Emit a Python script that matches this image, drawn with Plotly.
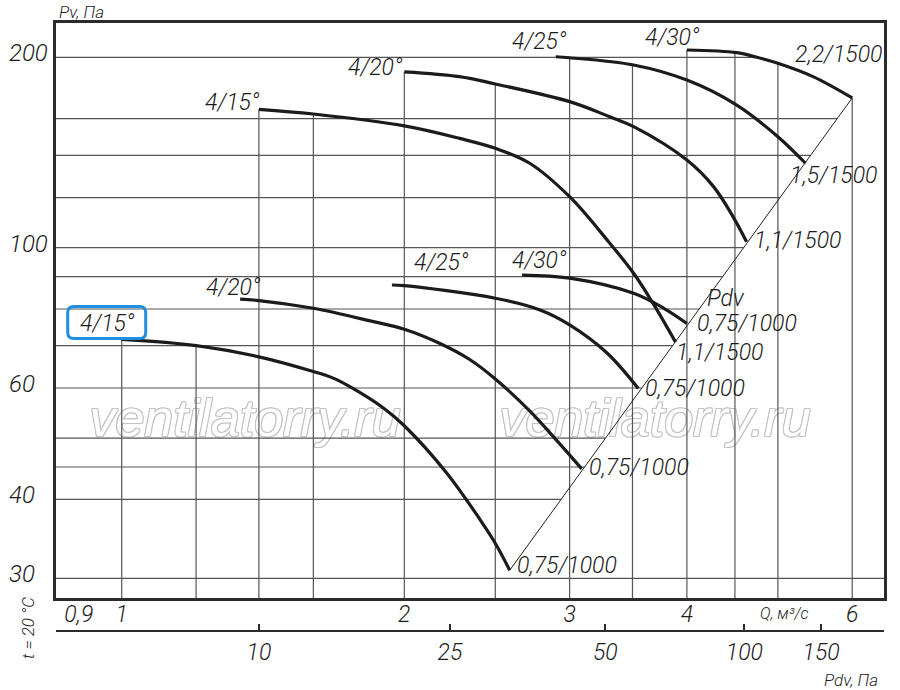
import numpy as np
import plotly.graph_objects as go

# ---------------- data ----------------
# 1000 rpm curves (motor 0,75 kW / 1000 rpm)
l15_q = [1.00, 1.20, 1.40, 1.60, 1.68, 1.75, 1.90, 2.00, 2.22, 2.41, 2.50, 2.59]
l15_p = [71.6, 70.0, 67.2, 63.7, 62.2, 60.3, 55.8, 52.3, 44.0, 37.1, 34.1, 30.9]
l20_q = [1.337, 1.40, 1.60, 1.84, 2.00, 2.18, 2.35, 2.50, 2.72, 2.93, 3.09]
l20_p = [82.9, 82.5, 80.2, 76.6, 74.3, 70.6, 66.5, 62.0, 55.2, 48.9, 44.7]
l25_q = [1.94, 2.00, 2.50, 2.79, 3.00, 3.29, 3.55]
l25_p = [87.3, 87.1, 83.2, 79.7, 75.5, 68.1, 59.9]
l30_q = [2.67, 3.00, 3.51, 3.78, 4.00]
l30_p = [90.5, 89.5, 84.7, 80.2, 75.9]
# 1500 rpm curves
u15_q = [1.40, 1.60, 2.00, 2.29, 2.50, 2.72, 3.00, 3.29, 3.51, 3.68, 3.89]
u15_p = [165.5, 162.7, 155.8, 148.9, 143.6, 136.0, 120.4, 102.8, 91.1, 81.7, 70.9]
u20_q = [2.00, 2.29, 2.50, 3.00, 3.31, 3.51, 4.00, 4.27, 4.48, 4.63]
u20_p = [189.7, 186.4, 181.5, 170.2, 161.1, 155.4, 137.6, 124.9, 111.9, 102.2]
u25_q = [2.90, 3.00, 3.51, 4.00, 4.52, 5.00, 5.35]
u25_p = [200.4, 199.7, 194.5, 184.1, 168.1, 149.8, 136.0]
u30_q = [4.00, 4.52, 4.75, 5.00, 5.45, 6.00]
u30_p = [205.4, 203.4, 200.0, 195.7, 186.4, 172.5]

angle_labels = ["4/15°", "4/20°", "4/25°", "4/30°"]
motor_1000 = ["0,75/1000", "0,75/1000", "0,75/1000", "0,75/1000"]
motor_1500 = ["1,1/1500", "1,1/1500", "1,5/1500", "2,2/1500"]

q_ticks = [0.9, 1, 2, 3, 4, 6]
q_ticktext = ["0,9", "1", "2", "3", "4", "6"]
p_ticks = [30, 40, 60, 100, 200]
p_ticktext = ["30", "40", "60", "100", "200"]
pdv_ticktext = ["10", "25", "50", "100", "150"]
pdv_tick_q = [1.40, 2.237, 3.274, 4.605, 5.559]   # flow at which each Pdv tick sits

vgrid_q = [1, 1.2, 1.4, 1.6, 2, 2.5, 3, 3.5, 4, 4.5, 5, 6]
hgrid_p = [30, 40, 45, 50, 60, 70, 80, 90, 100, 120, 140, 160, 200]

watermark = "ventilatorry.ru"

# ---------------- geometry ----------------
W, H = 900, 690
ML, MR, MT, MB = 56, 16, 23, 59
PW, PH = W - ML - MR, H - MT - MB
AXIS_BOTTOM_PX = 598
ydom0 = (H - MB - AXIS_BOTTOM_PX) / PH
xr = [-0.0700, 0.8120]
yr = [1.4461, 2.3553]

FONT = "Roboto"
INK = "#1b1b1b"
WEIGHT = 300


def px2paper(px, py):
    return (px - ML) / PW, (H - MB - py) / PH


def px2data(px, py):
    q = 10 ** (xr[0] + (px - ML) / PW * (xr[1] - xr[0]))
    p = 10 ** (yr[0] + (AXIS_BOTTOM_PX - py) / (AXIS_BOTTOM_PX - MT) * (yr[1] - yr[0]))
    return q, p


def data2px(q, p):
    x = ML + (np.log10(q) - xr[0]) / (xr[1] - xr[0]) * PW
    y = AXIS_BOTTOM_PX - (np.log10(p) - yr[0]) / (yr[1] - yr[0]) * (AXIS_BOTTOM_PX - MT)
    return x, y


lower = [(l15_q, l15_p), (l20_q, l20_p), (l25_q, l25_p), (l30_q, l30_p)]
upper = [(u15_q, u15_p), (u20_q, u20_p), (u25_q, u25_p), (u30_q, u30_p)]
curves = lower + upper


def interp_log(qs, ps, q):
    return 10 ** np.interp(np.log10(q), np.log10(qs), np.log10(ps))


def envelope(q):
    vals = [interp_log(cq, cp, q) for cq, cp in curves if cq[0] - 1e-9 <= q <= cq[-1] + 1e-9]
    return max(vals) if vals else None


diag_q = [l15_q[-1], u30_q[-1]]
diag_p = [l15_p[-1], u30_p[-1]]

fig = go.Figure()

# watermark (drawn first, below the grid)
wm_shadow = ", ".join("%dpx %dpx 0 #c4c4c4" % (a, b)
                      for a, b in [(1, 0), (-1, 0), (0, 1), (0, -1), (1, 1), (-1, -1), (1, -1), (-1, 1)])
wm_pos = [px2data(245, 423), px2data(655, 423)]
fig.add_trace(go.Scatter(x=[p[0] for p in wm_pos], y=[p[1] for p in wm_pos], mode="text",
                         text=[watermark, watermark], textposition="middle center",
                         textfont=dict(family="Liberation Sans", size=52, color="white",
                                       style="italic", shadow=wm_shadow),
                         hoverinfo="skip", showlegend=False))

# vertical grid lines: from bottom up to the upper envelope of curves
gx, gy = [], []
pbot = 10 ** yr[0]
for q in vgrid_q:
    top = envelope(q)
    if top is None:
        continue
    gx += [q, q, None]
    gy += [pbot, top, None]
# horizontal grid lines: from left edge to the Pdv line / envelope
qleft, qright = 10 ** xr[0], 10 ** xr[1]
qs_f = np.logspace(np.log10(min(c[0][0] for c in curves)), np.log10(max(c[0][-1] for c in curves)), 3000)
env_f = np.array([envelope(q) or 0 for q in qs_f])
for p in hgrid_p:
    if p < min(diag_p):
        right = qright
    elif p <= max(diag_p):
        right = 10 ** np.interp(np.log10(p), np.log10(diag_p), np.log10(diag_q))
    else:
        ok = qs_f[env_f >= p]
        right = ok.max() if len(ok) else qleft
    gx += [qleft, right, None]
    gy += [p, p, None]

fig.add_trace(go.Scatter(x=gx, y=gy, mode="lines", line=dict(color="#555555", width=1.2),
                         hoverinfo="skip", showlegend=False))

# Pdv line
fig.add_trace(go.Scatter(x=diag_q, y=diag_p, mode="lines", line=dict(color="#222222", width=1),
                         hoverinfo="skip", showlegend=False))

for cq, cp in curves:
    fig.add_trace(go.Scatter(x=cq, y=cp, mode="lines",
                             line=dict(color=INK, width=3.2, shape="spline", smoothing=1.0),
                             showlegend=False))

# dummy trace for the Pdv axis
fig.add_trace(go.Scatter(x=[None], y=[None], xaxis="x2", yaxis="y", showlegend=False))

lab_font = dict(family=FONT, size=23, color=INK, style="italic", weight=WEIGHT)
ann = []

# start (angle) labels: (xanchor, xshift, yshift)
start_style = [("right", 15, 16), ("right", 23, 12), ("left", 20, 23), ("left", -12, 15),
               ("right", 3, 7), ("right", 1, 4), ("right", 13, 15), ("right", 15, 13)]
# end (motor) labels
end_style = [("left", 5, 5), ("left", 5, 1), ("left", 5, 0), ("left", 8, 0),
             ("left", -2, -10), ("left", 5, 1), ("left", -17, -12), ("right", 32, 43)]
angle_all = angle_labels + angle_labels
motor_all = motor_1000 + motor_1500

for i, (cq, cp) in enumerate(curves):
    xa, xs, ys = start_style[i]
    ann.append(dict(x=np.log10(cq[0]), y=np.log10(cp[0]), xref="x", yref="y", text=angle_all[i],
                    showarrow=False, xanchor=xa, yanchor="middle", xshift=xs, yshift=ys, font=lab_font))
    xa, xs, ys = end_style[i]
    ann.append(dict(x=np.log10(cq[-1]), y=np.log10(cp[-1]), xref="x", yref="y", text=motor_all[i],
                    showarrow=False, xanchor=xa, yanchor="middle", xshift=xs, yshift=ys, font=lab_font))

# highlight box around the lower 4/15° label
bx, by = data2px(l15_q[0], l15_p[0])
x0p, x1p, y0p, y1p, r = bx - 54, bx + 24, by - 33, by - 1, 6
pts = lambda a, b: "%.5f,%.5f" % px2paper(a, b)
box_path = ("M " + pts(x0p + r, y0p) + " L " + pts(x1p - r, y0p) + " Q " + pts(x1p, y0p) + " " + pts(x1p, y0p + r) +
            " L " + pts(x1p, y1p - r) + " Q " + pts(x1p, y1p) + " " + pts(x1p - r, y1p) +
            " L " + pts(x0p + r, y1p) + " Q " + pts(x0p, y1p) + " " + pts(x0p, y1p - r) +
            " L " + pts(x0p, y0p + r) + " Q " + pts(x0p, y0p) + " " + pts(x0p + r, y0p) + " Z")
shapes = [dict(type="path", xref="paper", yref="paper", path=box_path,
               line=dict(color="#1e8fe1", width=3), fillcolor="rgba(0,0,0,0)")]

# y tick labels (left aligned as in the original)
for v, t in zip(p_ticks, p_ticktext):
    ann.append(dict(x=px2paper(7, 0)[0], y=np.log10(v), xref="paper", yref="y", text=t, showarrow=False,
                    xanchor="left", yanchor="middle", yshift=4,
                    font=dict(family=FONT, size=24, color=INK, style="italic", weight=WEIGHT)))

xp, yp = px2paper(57, 12)
ann.append(dict(x=xp, y=yp, xref="paper", yref="paper", text="Pv, Па", showarrow=False,
                xanchor="left", yanchor="middle",
                font=dict(family=FONT, size=17, color=INK, style="italic", weight=WEIGHT)))
xp, yp = px2paper(784, 613)
ann.append(dict(x=xp, y=yp, xref="paper", yref="paper", text="Q, м³/с", showarrow=False,
                xanchor="center", yanchor="middle",
                font=dict(family=FONT, size=16, color=INK, style="italic", weight=WEIGHT)))
xp, yp = px2paper(851, 680)
ann.append(dict(x=xp, y=yp, xref="paper", yref="paper", text="Pdv, Па", showarrow=False,
                xanchor="center", yanchor="middle",
                font=dict(family=FONT, size=17, color=INK, style="italic", weight=WEIGHT)))
xp, yp = px2paper(28, 628)
ann.append(dict(x=xp, y=yp, xref="paper", yref="paper", text="t = 20 °C", showarrow=False, textangle=-90,
                xanchor="center", yanchor="middle",
                font=dict(family=FONT, size=17, color=INK, style="italic", weight=WEIGHT)))
xp, yp = px2paper(726, 298)
ann.append(dict(x=xp, y=yp, xref="paper", yref="paper", text="Pdv", showarrow=False,
                xanchor="center", yanchor="middle", font=lab_font))

tick_font = dict(family=FONT, size=23, color=INK, style="italic", weight=WEIGHT)
fig.update_layout(
    width=W, height=H, margin=dict(l=ML, r=MR, t=MT, b=MB),
    paper_bgcolor="white", plot_bgcolor="white", showlegend=False,
    xaxis=dict(type="log", range=xr, domain=[0, 1], anchor="y", showline=True, mirror=True,
               linecolor="#2b2b2b", linewidth=2.5, showgrid=False, zeroline=False, ticks="",
               tickvals=q_ticks, ticktext=q_ticktext, tickfont=tick_font, ticklabelstandoff=-6),
    yaxis=dict(type="log", range=yr, domain=[ydom0, 1], anchor="x", showline=True, mirror=True,
               linecolor="#2b2b2b", linewidth=2.5, showgrid=False, zeroline=False, ticks="",
               showticklabels=False),
    xaxis2=dict(type="log", range=xr, overlaying="x", anchor="free", position=0, side="bottom",
                showline=True, linecolor="#2b2b2b", linewidth=2, showgrid=False, zeroline=False,
                ticks="inside", ticklen=6, tickwidth=1.5, tickcolor="#2b2b2b",
                tickvals=pdv_tick_q, ticktext=pdv_ticktext, tickfont=tick_font),
    annotations=ann, shapes=shapes,
)

fig.write_html("out.html", config={"displayModeBar": False},
               post_script="document.body.style.margin='0';document.body.style.overflow='hidden';")
